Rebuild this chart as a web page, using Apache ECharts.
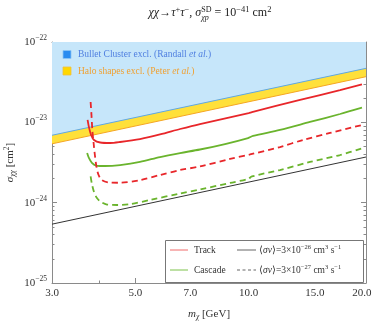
<!DOCTYPE html>
<html>
<head>
<meta charset="utf-8">
<script src="https://cdn.jsdelivr.net/npm/echarts@6/dist/echarts.min.js"></script>
<style>
  html, body { margin: 0; padding: 0; background: #fff; }
  #chart { width: 374px; height: 325px; }
</style>
</head>
<body>
<div id="chart"></div>
<script>
// ---- data (m in GeV, sigma in cm^2) ----
const track26 = [ // Track, <sv> = 3e-26 (solid red)
  [3.73, 1.07e-23], [3.76, 8.75e-24], [3.81, 6.96e-24], [3.88, 6.03e-24], [4.03, 5.61e-24],
  [4.28, 5.53e-24], [4.55, 5.69e-24], [5.14, 6.20e-24], [5.81, 7.06e-24], [6.57, 8.26e-24],
  [7.42, 9.53e-24], [10.0, 1.30e-23], [10.2, 1.34e-23], [13.69, 1.90e-23], [17.49, 2.52e-23],
  [20.0, 2.97e-23]
];
const cascade26 = [ // Cascade, <sv> = 3e-26 (solid green)
  [3.72, 4.15e-24], [3.76, 3.60e-24], [3.83, 3.12e-24], [3.93, 2.90e-24], [4.15, 2.86e-24],
  [4.55, 2.94e-24], [5.14, 3.21e-24], [5.81, 3.70e-24], [6.57, 4.15e-24], [7.42, 4.59e-24],
  [8.65, 5.37e-24], [9.96, 6.38e-24], [10.27, 6.76e-24], [12.11, 8.03e-24], [14.55, 1.01e-23],
  [17.49, 1.27e-23], [20.0, 1.52e-23]
];
const track27 = [ // Track, <sv> = 3e-27 (dashed red)
  [3.80, 1.79e-23], [3.82, 1.23e-23], [3.84, 8.03e-24], [3.87, 5.53e-24], [3.90, 3.92e-24],
  [3.94, 2.78e-24], [3.99, 2.21e-24], [4.07, 1.91e-24], [4.23, 1.79e-24], [4.55, 1.77e-24],
  [5.14, 1.91e-24], [5.81, 2.21e-24], [6.57, 2.55e-24], [7.42, 2.82e-24], [8.92, 3.50e-24],
  [10.08, 3.98e-24], [12.11, 4.93e-24], [13.94, 6.03e-24], [16.45, 7.37e-24], [20.0, 9.26e-24]
];
const cascade27 = [ // Cascade, <sv> = 3e-27 (dashed green)
  [3.80, 2.12e-24], [3.83, 1.71e-24], [3.88, 1.36e-24], [3.95, 1.14e-24], [4.05, 1.02e-24],
  [4.20, 9.48e-25], [4.47, 9.35e-25], [4.84, 9.60e-25], [5.47, 1.08e-24], [6.57, 1.30e-24],
  [7.42, 1.46e-24], [8.92, 1.76e-24], [9.96, 1.97e-24], [10.2, 2.12e-24], [12.11, 2.55e-24],
  [14.55, 3.21e-24], [17.49, 3.92e-24], [20.0, 4.75e-24]
];
const edgeMass = [3, 20.5];
const bulletEdge = [6.9e-24, 4.7e-23];
const haloEdge = [5.4e-24, 3.7e-23];
const blackEdge = [5.4e-25, 3.7e-24];

// ticks
const xMajor = [3, 5, 7, 10, 15, 20];
const xMinor = [4, 6, 8, 9, 11, 12, 13, 14, 16, 17, 18, 19];
const yDecades = [-25, -24, -23, -22];
const yMinorMult = [2, 3, 4, 5, 6, 7, 8, 9];

// y is drawn on a value axis holding log10(sigma)
const lg = v => Math.log10(v);
const logY = pts => pts.map(([m, s]) => [m, lg(s)]);
const zip = (xs, ys) => xs.map((x, i) => [x, lg(ys[i])]);
const yMinor = [];
yDecades.slice(0, 3).forEach(d => yMinorMult.forEach(k => yMinor.push(d + lg(k))));

const SERIF = '"Liberation Serif", "Times New Roman", serif';
const FRAME = '#8a8a8a';
const TXT = '#333';

function xAx(pos, ticks, len, main) {
  return {
    type: 'log', min: 3, max: 20.5, position: pos,
    axisLine: { show: main, onZero: false, lineStyle: { color: FRAME, width: 1 } },
    axisTick: { show: true, inside: true, length: len, customValues: ticks, lineStyle: { color: FRAME } },
    axisLabel: { show: false },
    splitLine: { show: false }
  };
}
function yAx(pos, ticks, len, main) {
  return {
    type: 'value', min: -25, max: -22, position: pos,
    axisLine: { show: main, onZero: false, lineStyle: { color: FRAME, width: 1 } },
    axisTick: { show: true, inside: true, length: len, customValues: ticks, lineStyle: { color: FRAME } },
    axisLabel: { show: false },
    splitLine: { show: false }
  };
}

const xAxes = [xAx('bottom', xMajor, 5, true), xAx('bottom', xMinor, 2.5, false),
               xAx('top', xMajor, 5, true), xAx('top', xMinor, 2.5, false)];
xAxes[0].axisLabel = {
  show: true, customValues: xMajor, margin: 5, fontFamily: SERIF, fontSize: 11, color: TXT,
  formatter: v => Number(v).toFixed(1)
};
xAxes[0].name = '{i|m}{sub|χ} [GeV]';
xAxes[0].nameLocation = 'middle';
xAxes[0].nameGap = 25;
xAxes[0].nameMoveOverlap = false;
xAxes[0].nameTextStyle = {
  fontFamily: SERIF, fontSize: 11, color: TXT,
  rich: {
    i: { fontFamily: SERIF, fontSize: 11, fontStyle: 'italic', color: TXT },
    sub: { fontFamily: SERIF, fontSize: 7.5, fontStyle: 'italic', color: TXT, padding: [5, 0, 0, 0] }
  }
};

const yAxes = [yAx('left', yDecades, 5, true), yAx('left', yMinor, 2.5, false),
               yAx('right', yDecades, 5, true), yAx('right', yMinor, 2.5, false)];
yAxes[0].axisLabel = {
  show: true, customValues: yDecades, margin: 5, color: TXT,
  formatter: v => '{b|10}{s|−' + Math.round(-v) + '}',
  rich: {
    b: { fontFamily: SERIF, fontSize: 11, color: TXT },
    s: { fontFamily: SERIF, fontSize: 7.5, color: TXT, padding: [0, 0, 8, 0] }
  }
};
yAxes[0].name = '{i|σ}{sub|χχ} [cm{sup|2}]';
yAxes[0].nameLocation = 'middle';
yAxes[0].nameGap = 34;
yAxes[0].nameRotate = 90;
yAxes[0].nameMoveOverlap = false;
yAxes[0].nameTextStyle = {
  fontFamily: SERIF, fontSize: 11, color: TXT,
  rich: {
    i: { fontFamily: SERIF, fontSize: 11, fontStyle: 'italic', color: TXT },
    sub: { fontFamily: SERIF, fontSize: 7.5, fontStyle: 'italic', color: TXT, padding: [5, 0, 0, 0] },
    sup: { fontFamily: SERIF, fontSize: 7.5, color: TXT, padding: [0, 0, 7, 0] }
  }
};

// ---- title laid out piece by piece (stacked sup/sub on sigma) ----
const mctx = document.createElement('canvas').getContext('2d');
function textW(t, size, italic) {
  mctx.font = (italic ? 'italic ' : '') + size + 'px ' + SERIF;
  return mctx.measureText(t).width;
}
function titleGraphics(cx, baseY) {
  const parts = [
    ['χχ', 12, 1, 0], ['→', 12, 0, 0], ['τ', 12, 1, 0], ['+', 8.5, 0, -5], ['τ', 12, 1, 0],
    ['−', 8.5, 0, -5], [', ', 12, 0, 0], ['σ', 12, 1, 0],
    [['SD', 8, 0, -5.5], ['χp', 8, 1, 3]],
    [' = 10', 12, 0, 0], ['−41', 8.5, 0, -5], [' cm', 12, 0, 0], ['2', 8.5, 0, -5]
  ];
  const widthOf = p => Array.isArray(p[0]) ? Math.max(...p.map(q => textW(q[0], q[1], q[2]))) : textW(p[0], p[1], p[2]);
  const total = parts.reduce((s, p) => s + widthOf(p), 0);
  let x = cx - total / 2;
  const out = [];
  const mk = (q, xx) => ({
    type: 'text', x: xx, y: baseY + q[3],
    style: { text: q[0], fontFamily: SERIF, fontSize: q[1], fontStyle: q[2] ? 'italic' : 'normal',
             fill: '#222', align: 'left', verticalAlign: 'bottom' }
  });
  parts.forEach(p => {
    if (Array.isArray(p[0])) p.forEach(q => out.push(mk(q, x)));
    else out.push(mk(p, x));
    x += widthOf(p);
  });
  return out;
}

// ---- legends ----
const legRich = {
  i: { fontFamily: SERIF, fontSize: 9.5, fontStyle: 'italic', fill: '#333' },
  sup: { fontFamily: SERIF, fontSize: 6.5, fill: '#333', padding: [0, 0, 6, 0] }
};
const graphics = titleGraphics(210, 19).concat([
  // top-left exclusion legend
  { type: 'rect', shape: { x: 63, y: 50.5, width: 8, height: 8 }, style: { fill: '#2a8cf0', stroke: '#8cc4f5', lineWidth: 0.8 }, z: 10 },
  { type: 'text', x: 78, y: 54.5, z: 10, style: { text: 'Bullet Cluster excl. (Randall {i|et al.})', fontFamily: SERIF, fontSize: 9.5, fill: '#4f7fe0', verticalAlign: 'middle',
      rich: { i: { fontFamily: SERIF, fontSize: 9.5, fontStyle: 'italic', fill: '#4f7fe0' } } } },
  { type: 'rect', shape: { x: 63, y: 67, width: 8, height: 8 }, style: { fill: '#ffd800', stroke: '#f0c040', lineWidth: 0.8 }, z: 10 },
  { type: 'text', x: 78, y: 71, z: 10, style: { text: 'Halo shapes excl. (Peter {i|et al.})', fontFamily: SERIF, fontSize: 9.5, fill: '#f0a030', verticalAlign: 'middle',
      rich: { i: { fontFamily: SERIF, fontSize: 9.5, fontStyle: 'italic', fill: '#f0a030' } } } },
  // bottom-right line legend
  { type: 'rect', shape: { x: 165.5, y: 240.5, width: 198, height: 42 }, style: { fill: '#fff', stroke: '#777', lineWidth: 1 }, z: 10 },
  { type: 'line', shape: { x1: 170, y1: 250, x2: 188, y2: 250 }, style: { stroke: '#f06a6a', lineWidth: 1 }, z: 11 },
  { type: 'text', x: 194, y: 250, z: 11, style: { text: 'Track', fontFamily: SERIF, fontSize: 9.5, fill: '#333', verticalAlign: 'middle' } },
  { type: 'line', shape: { x1: 170, y1: 270, x2: 188, y2: 270 }, style: { stroke: '#7cc24a', lineWidth: 1 }, z: 11 },
  { type: 'text', x: 194, y: 270, z: 11, style: { text: 'Cascade', fontFamily: SERIF, fontSize: 9.5, fill: '#333', verticalAlign: 'middle' } },
  { type: 'line', shape: { x1: 237, y1: 250, x2: 256, y2: 250 }, style: { stroke: '#666', lineWidth: 1 }, z: 11 },
  { type: 'text', x: 259, y: 250, z: 11, style: { text: '⟨{i|σv}⟩=3×10{sup|−26} cm{sup|3} s{sup|−1}', fontFamily: SERIF, fontSize: 9.5, fill: '#333', verticalAlign: 'middle', rich: legRich } },
  { type: 'line', shape: { x1: 237, y1: 270, x2: 256, y2: 270 }, style: { stroke: '#666', lineWidth: 1, lineDash: [3, 2.5] }, z: 11 },
  { type: 'text', x: 259, y: 270, z: 11, style: { text: '⟨{i|σv}⟩=3×10{sup|−27} cm{sup|3} s{sup|−1}', fontFamily: SERIF, fontSize: 9.5, fill: '#333', verticalAlign: 'middle', rich: legRich } }
]);

const curve = (data, color, dashed) => ({
  type: 'line', data: logY(data), showSymbol: false, smooth: 0.3, z: 5,
  lineStyle: { color, width: 1.8, type: dashed ? [6, 4] : 'solid' }
});

const chart = echarts.init(document.getElementById('chart'), null, { renderer: 'canvas' });
chart.setOption({
  animation: false,
  backgroundColor: '#fff',
  grid: { left: 52, right: 8, top: 42, bottom: 42, containLabel: false, outerBoundsMode: 'none' },
  xAxis: xAxes,
  yAxis: yAxes,
  graphic: graphics,
  series: [
    { type: 'line', data: zip(edgeMass, haloEdge), showSymbol: false, z: 1,
      lineStyle: { color: '#f5a623', width: 1 }, areaStyle: { color: '#ffe03a', opacity: 1, origin: 'end' } },
    { type: 'line', data: zip(edgeMass, bulletEdge), showSymbol: false, z: 2,
      lineStyle: { color: '#5fa8e4', width: 1 }, areaStyle: { color: '#c6e6fa', opacity: 1, origin: 'end' } },
    { type: 'line', data: zip(edgeMass, blackEdge), showSymbol: false, z: 3,
      lineStyle: { color: '#333', width: 1 } },
    curve(track26, '#e8262a', false),
    curve(cascade26, '#6ab42d', false),
    curve(track27, '#e8262a', true),
    curve(cascade27, '#6ab42d', true)
  ]
});
</script>
</body>
</html>
